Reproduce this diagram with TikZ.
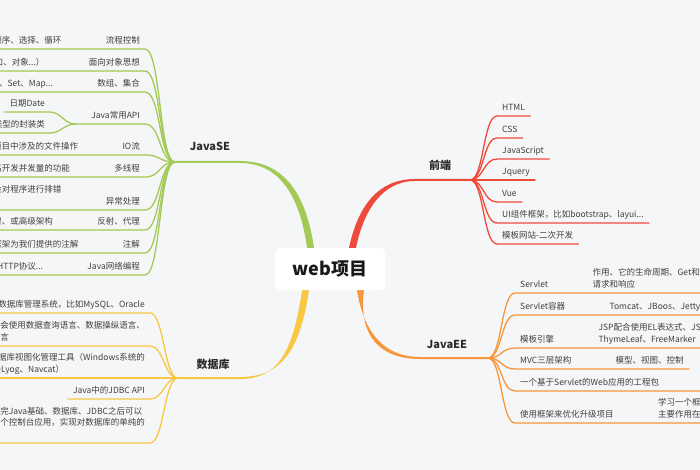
\documentclass[tikz,border=0pt]{standalone}
\usepackage{fontspec}
\setmainfont{Noto Sans CJK SC}
\usetikzlibrary{positioning}

\definecolor{seGreen}{HTML}{A3C956}
\definecolor{feRed}{HTML}{EE4A3C}
\definecolor{eeOrange}{HTML}{F7963A}
\definecolor{dbYellow}{HTML}{F8C843}
\definecolor{bgGray}{HTML}{F5F6F8}
\definecolor{txtGray}{HTML}{404040}
\definecolor{txtDark}{HTML}{2B2B2B}

\tikzset{
  topic/.style={font=\fontsize{8.5}{11.5}\selectfont, text=txtGray, align=left,
    text height=7pt, text depth=0pt, inner xsep=5pt, inner ysep=5.5pt},
  lt/.style={topic, anchor=south east},
  rt/.style={topic, anchor=south west},
  mainlbl/.style={font=\fontsize{11}{13}\selectfont\bfseries, text=txtDark},
  rootbox/.style={fill=white, rounded corners=5pt, minimum width=110pt, minimum height=42pt,
    font=\fontsize{18}{20}\selectfont\bfseries, text=black!90},
  twig/.style={line width=1.3pt, line cap=round},
}

\begin{document}
\begin{tikzpicture}[x=1pt, y=-1pt, line join=round]

  \fill[bgGray] (0,0) rectangle (700,470);
  \useasboundingbox (0,0) rectangle (700,470);
  \clip (0,0) rectangle (700,470);

  %% ════ 中心主题 + 分支枢纽 ════
  \node[rootbox] (root) at (330,269) {};
  \coordinate (se) at (175,162);
  \coordinate (fe) at (470,180);
  \coordinate (ee) at (488,358);
  \coordinate (db) at (178,378);

  %% ════ 主干（渐细的填充曲线）════
  \fill[seGreen] (175,161) -- (240,161) .. controls (288,161) and (307,200) .. ([xshift=-16]root.north)
    -- ([xshift=-23]root.north) .. controls (301,204) and (284,163) .. (240,163) -- (175,163) -- cycle;
  \fill[feRed] ([xshift=19]root.north) .. controls (358,206) and (378,179) .. (415,179) -- (470,179)
    -- (470,181) -- (415,181) .. controls (383,181) and (364,209) .. ([xshift=26]root.north) -- cycle;
  \fill[eeOrange] ([xshift=27]root.south) .. controls (364,334) and (385,357) .. (420,357) -- (488,357)
    -- (488,359) -- (420,359) .. controls (380,359) and (358,336) .. ([xshift=34]root.south) -- cycle;
  \fill[dbYellow] ([xshift=-21]root.south) .. controls (300,350) and (282,377) .. (240,377) -- (178,377)
    -- (178,379) -- (240,379) .. controls (278,379) and (293,352) .. ([xshift=-28]root.south) -- cycle;

  \node[rootbox] (rootT) at (root) {web项目};

  %% ════ 主干标签 ════
  \node[mainlbl] (seL) at (210,146) {JavaSE};
  \node[mainlbl] (feL) at (440,165) {前端};
  \node[mainlbl] (eeL) at (447,344) {JavaEE};
  \node[mainlbl] (dbL) at (213,364) {数据库};

  %% ════ JavaSE（左侧，绿）════
  \node[lt] (se1) at (145,49)  {流程控制};
  \node[lt] (se1a) at ([xshift=-34]se1.south west) {顺序、选择、循环};
  \node[lt] (se2) at (145,71)  {面向对象思想};
  \node[lt] (se2a) at ([xshift=-34]se2.south west) {（类、接口、对象...）};
  \node[lt] (se3) at (145,92)  {数组、集合};
  \node[lt] (se3a) at ([xshift=-34]se3.south west) {List、Set、Map...};
  \node[lt] (se4) at (145,124) {Java常用API};
  \coordinate (apih) at ([xshift=-11]se4.south west);
  \node[lt] (se4a) at (50,112) {日期Date};
  \node[lt] (se4b) at (50,133) {基本数据类型的封装类};
  \node[lt] (se5) at (145,155) {IO流};
  \node[lt] (se5a) at ([xshift=-34]se5.south west) {项目中涉及的文件操作};
  \node[lt] (se6) at (145,177) {多线程};
  \node[lt] (se6a) at ([xshift=-34]se6.south west) {提高开发并发量的功能};
  \node[lt] (se7) at (145,210) {异常处理};
  \node[lt] (se7a) at ([xshift=-34]se7.south west) {学会对程序进行排错\\\mbox{}};
  \node[lt] (se8) at (145,230) {反射、代理};
  \node[lt] (se8a) at ([xshift=-34]se8.south west) {用于框架、或高级架构};
  \node[lt] (se9) at (145,253) {注解};
  \node[lt] (se9a) at ([xshift=-34]se9.south west) {学习框架为我们提供的注解};
  \node[lt] (se10) at (145,275) {Java网络编程};
  \node[lt] (se10a) at ([xshift=-34]se10.south west) {TCP、UDP、HTTP协议...};

  \foreach \n in {se1,se2,se3,se5,se6,se7,se8,se9,se10}
    \draw[twig, seGreen] (se) .. controls +(-16,0) and +(16,0) .. (\n.south east) -- (\n a.south west);
  \draw[twig, seGreen] (se) .. controls +(-16,0) and +(16,0) .. (se4.south east) -- (apih);
  \foreach \n in {se4a,se4b}
    \draw[twig, seGreen] (apih) .. controls +(-11,0) and +(11,0) .. (\n.south east) -- (\n.south west);

  %% ════ 前端（右侧，红）════
  \node[rt] (fe1) at (497,116) {HTML};
  \node[rt] (fe2) at (497,138) {CSS};
  \node[rt] (fe3) at (497,159) {JavaScript};
  \node[rt] (fe4) at (497,180) {Jquery};
  \node[rt] (fe5) at (497,202) {Vue};
  \node[rt] (fe6) at (497,223) {UI组件框架，比如bootstrap、layui...};
  \node[rt] (fe7) at (497,244) {模板网站-二次开发};
  \foreach \n in {fe1,fe2,fe3,fe4,fe5,fe6,fe7}
    \draw[twig, feRed] (fe) .. controls +(14,0) and +(-14,0) .. (\n.south west) -- (\n.south east);

  %% ════ JavaEE（右侧，橙）════
  \node[rt] (ee1) at (515,293) {Servlet};
  \node[rt] (ee1a) at ([xshift=34]ee1.south east) {作用、它的生命周期、Get和Post的\\请求和响应};
  \node[rt] (ee2) at (515,315) {Servlet容器};
  \node[rt] (ee2a) at ([xshift=34]ee2.south east) {Tomcat、JBoos、Jetty};
  \node[rt] (ee3) at (515,348) {模板引擎};
  \node[rt] (ee3a) at ([xshift=34]ee3.south east) {JSP配合使用EL表达式、JSTL\\ThymeLeaf、FreeMarker};
  \node[rt] (ee4) at (515,369) {MVC三层架构};
  \node[rt] (ee4a) at ([xshift=34]ee4.south east) {模型、视图、控制};
  \node[rt] (ee5) at (515,391) {一个基于Servlet的Web应用的工程包};
  \coordinate (ee5e) at (705,391);
  \node[rt] (ee6) at (515,423) {使用框架来优化升级项目};
  \node[rt] (ee6a) at ([xshift=34]ee6.south east) {学习一个框架\\主要作用在于};
  \foreach \n in {ee1,ee2,ee3,ee4,ee6}
    \draw[twig, eeOrange] (ee) .. controls +(14,0) and +(-14,0) .. (\n.south west) -- (\n a.south east);
  \draw[twig, eeOrange] (ee) .. controls +(14,0) and +(-14,0) .. (ee5.south west) -- (ee5e);

  %% ════ 数据库（左侧，黄）════
  \node[lt] (db1) at (150,313) {学习数据库管理系统，比如MySQL、Oracle};
  \node[lt] (db2) at (150,346) {然后需要学会使用数据查询语言、数据操纵语言、\\数据定义语言};
  \node[lt] (db3) at (150,378) {数据库视图化管理工具（Windows系统的\\SQLyog、Navcat）};
  \node[lt] (db4) at (150,399) {Java中的JDBC API};
  \node[lt] (db5) at (150,443) {学习完Java基础、数据库、JDBC之后可以\\做一个控制台应用，实现对数据库的单纯的\\\mbox{}};
  \foreach \n in {db1,db2,db3,db4,db5}
    \draw[twig, dbYellow] (db) .. controls +(-14,0) and +(14,0) .. (\n.south east) -- (\n.south west);

\end{tikzpicture}
\end{document}
